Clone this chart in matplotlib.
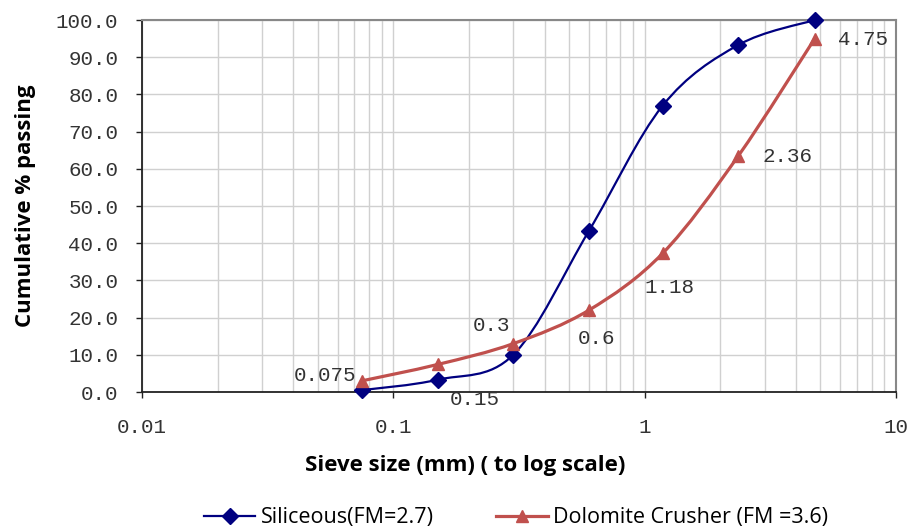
import numpy as np
import matplotlib
matplotlib.use("Agg")
import matplotlib.pyplot as plt
from matplotlib.path import Path
from matplotlib.patches import PathPatch
from matplotlib.lines import Line2D
from matplotlib.ticker import FixedLocator, NullFormatter

sieve = [0.075, 0.15, 0.3, 0.6, 1.18, 2.36, 4.75]
siliceous = [0.5, 3.3, 10.0, 43.3, 77.0, 93.3, 100.0]
dolomite = [3.0, 7.4, 13.0, 22.0, 37.3, 63.5, 95.0]
labels = ["0.075", "0.15", "0.3", "0.6", "1.18", "2.36", "4.75"]
xticks = [0.01, 0.1, 1, 10]
xticklabels = ["0.01", "0.1", "1", "10"]
yticks = np.arange(0, 101, 10)

blue = "#000080"
red = "#C0504D"
mono = "Liberation Mono"
sans = "Open Sans"

fig = plt.figure(figsize=(9.11, 5.31), dpi=100)
ax = fig.add_axes([142/911, 1-392/531, (896-142)/911, (392-20)/531])
ax.set_xscale("log")
ax.set_xlim(0.01, 10)
ax.set_ylim(0, 100)


def smooth_path(xs, ys, tension=1/6):
    lx = np.log10(xs)
    y = np.asarray(ys, float)
    n = len(lx)
    verts = [(lx[0], y[0])]
    codes = [Path.MOVETO]
    for i in range(n - 1):
        p0 = (lx[max(i-1, 0)], y[max(i-1, 0)])
        p1 = (lx[i], y[i])
        p2 = (lx[i+1], y[i+1])
        p3 = (lx[min(i+2, n-1)], y[min(i+2, n-1)])
        c1 = (p1[0] + (p2[0]-p0[0])*tension, p1[1] + (p2[1]-p0[1])*tension)
        c2 = (p2[0] - (p3[0]-p1[0])*tension, p2[1] - (p3[1]-p1[1])*tension)
        verts += [c1, c2, p2]
        codes += [Path.CURVE4]*3
    verts = [(10**vx, vy) for vx, vy in verts]
    return Path(verts, codes)


for ys, col, mk, ms, lw in [(siliceous, blue, "D", 8, 1.6), (dolomite, red, "^", 9, 2.3)]:
    patch = PathPatch(smooth_path(sieve, ys), facecolor="none", edgecolor=col,
                      lw=lw, zorder=3, clip_on=False)
    ax.add_patch(patch)
    ax.plot(sieve, ys, linestyle="none", marker=mk, color=col, ms=ms, zorder=4, clip_on=False)

# data labels (pixel offsets from dolomite points)
offsets = [(-6, 5, "right"), (12, -35, "left"), (-3, 18, "right"),
           (-11, -28, "left"), (-18, -34, "left"), (24, -1, "left"),
           (23, -1, "left")]
for xv, yv, lab, (dx, dy, ha) in zip(sieve, dolomite, labels, offsets):
    ax.annotate(lab, (xv, yv), xytext=(dx, dy), textcoords="offset pixels",
                ha=ha, va="center", fontsize=15, family=mono, color="#333333", zorder=5)

ax.xaxis.set_major_locator(FixedLocator(xticks))
ax.set_xticklabels(xticklabels)
minor = [m * 10.0**e for e in (-2, -1, 0) for m in range(2, 10)]
ax.xaxis.set_minor_locator(FixedLocator(minor))
ax.xaxis.set_minor_formatter(NullFormatter())
ax.set_yticks(yticks)
ax.set_yticklabels([f"{v:.1f}" for v in yticks])

ax.grid(True, which="major", color="#D0D0D0", lw=1)
ax.grid(True, which="minor", axis="x", color="#D0D0D0", lw=1)
ax.set_axisbelow(True)

for s in ["top", "right"]:
    ax.spines[s].set_color("#888888")
    ax.spines[s].set_linewidth(1.5)
for s in ["left", "bottom"]:
    ax.spines[s].set_color("#222222")
    ax.spines[s].set_linewidth(1.3)

ax.tick_params(axis="both", which="major", labelsize=15, colors="#222222", length=4,
               direction="out", width=1)
ax.tick_params(axis="x", which="minor", length=0)
for t in ax.get_xticklabels() + ax.get_yticklabels():
    t.set_family(mono)
    t.set_color("#333333")
ax.tick_params(axis="x", pad=15)
ax.tick_params(axis="y", pad=13)

ax.set_xlabel("Sieve size (mm) ( to log scale)", fontsize=16, fontweight="bold", family=sans)
ax.xaxis.label.set_va("center")
ax.xaxis.set_label_coords((465-142)/754, (392-465)/372)
ax.set_ylabel("Cumulative % passing", fontsize=16, fontweight="bold", family=sans)
ax.yaxis.label.set_va("center")
ax.yaxis.set_label_coords((25-142)/754, 0.5)

handles = [Line2D([], [], color=blue, marker="D", ms=8, lw=1.6),
           Line2D([], [], color=red, marker="^", ms=9, lw=2.3)]
fig.legend(handles, ["Siliceous(FM=2.7)", "Dolomite Crusher (FM =3.6)"],
           loc="center", bbox_to_anchor=(516/911, 1-518/531), ncol=2, frameon=False,
           prop={"family": sans, "size": 15.5}, handlelength=2.4, columnspacing=2.9,
           handletextpad=0.25, borderpad=0, borderaxespad=0)

fig.savefig("out.png", dpi=100)
